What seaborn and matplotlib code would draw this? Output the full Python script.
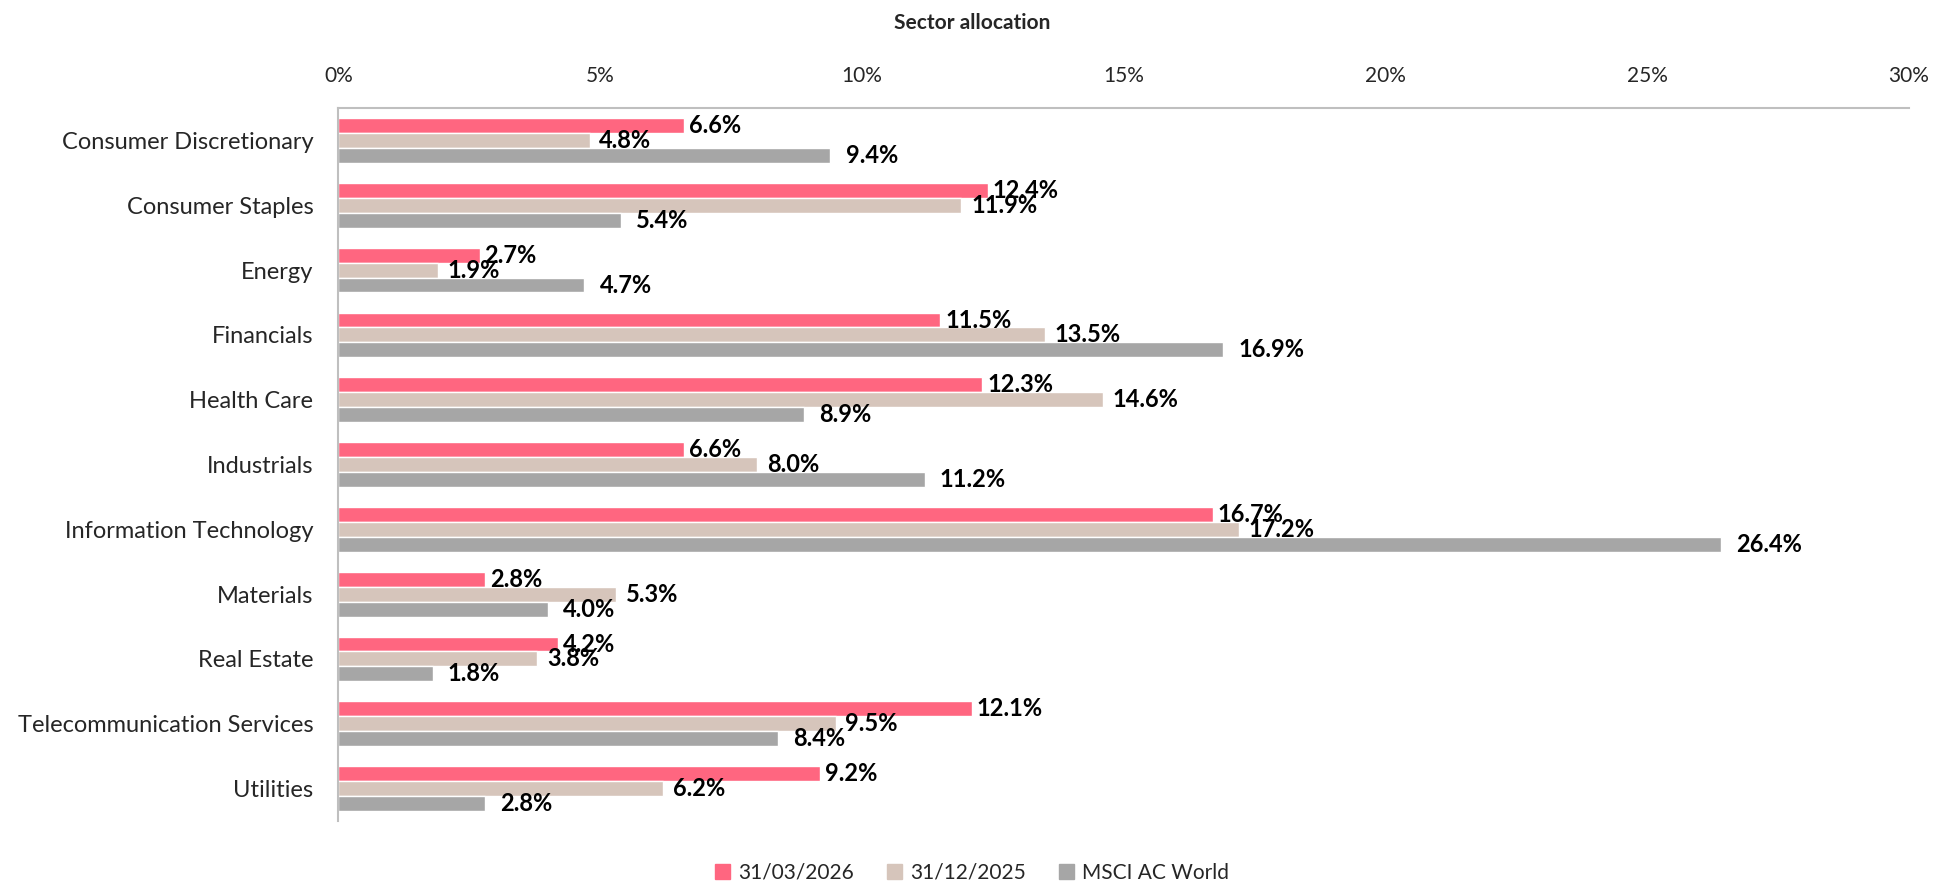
import matplotlib
matplotlib.use("Agg")
import matplotlib.pyplot as plt
import pandas as pd
import seaborn as sns

# Data (percent)
sectors = ["Consumer Discretionary", "Consumer Staples", "Energy", "Financials",
           "Health Care", "Industrials", "Information Technology", "Materials",
           "Real Estate", "Telecommunication Services", "Utilities"]
series_names = ["31/03/2026", "31/12/2025", "MSCI AC World"]
mar_2026 = [6.6, 12.4, 2.7, 11.5, 12.3, 6.6, 16.7, 2.8, 4.2, 12.1, 9.2]
dec_2025 = [4.8, 11.9, 1.9, 13.5, 14.6, 8.0, 17.2, 5.3, 3.8, 9.5, 6.2]
msci_acwi = [9.4, 5.4, 4.7, 16.9, 8.9, 11.2, 26.4, 4.0, 1.8, 8.4, 2.8]
x_ticks = [0, 5, 10, 15, 20, 25, 30]

colors = ["#FF6680", "#D6C5BB", "#A6A6A6"]

df = pd.DataFrame({
    "sector": sectors * 3,
    "series": [s for s in series_names for _ in sectors],
    "value": mar_2026 + dec_2025 + msci_acwi,
})

sns.set_theme(style="white")
plt.rcParams["font.family"] = ["Lato", "DejaVu Sans"]

fig, ax = plt.subplots(figsize=(19.44, 8.86), dpi=100)
fig.subplots_adjust(left=0.174, right=0.982, top=0.878, bottom=0.0734)

sns.barplot(data=df, x="value", y="sector", hue="series", order=sectors,
            hue_order=series_names, palette=colors, orient="h",
            width=0.69, gap=0, saturation=1, ax=ax, legend=False)

# value labels, bold, just past the bar end
for cont, pad in zip(ax.containers, [3.5, 7, 11]):
    ax.bar_label(cont, fmt="%.1f%%", padding=pad, fontsize=17,
                 fontweight="bold", color="black")

ax.set_xlim(0, 30)
ax.set_ylim(len(sectors) - 0.5, -0.5)
ax.set_xticks(x_ticks)
ax.set_xticklabels([f"{t}%" for t in x_ticks])
ax.xaxis.tick_top()
ax.tick_params(axis="x", length=0, pad=16, labelsize=15)
ax.tick_params(axis="y", length=0, pad=18, labelsize=17)
ax.set_xlabel("")
ax.set_ylabel("")

for side in ["right", "bottom"]:
    ax.spines[side].set_visible(False)
for side in ["left", "top"]:
    ax.spines[side].set_color("#BFBFBF")
    ax.spines[side].set_linewidth(1.5)

fig.suptitle("Sector allocation", x=0.5, y=0.985, fontsize=15, fontweight="bold")

handles = [plt.Rectangle((0, 0), 1, 1, color=c) for c in colors]
fig.legend(handles, series_names, loc="center", bbox_to_anchor=(0.5, 0.0147),
           ncol=3, frameon=False, fontsize=15, handlelength=0.7, handleheight=0.7,
           handletextpad=0.4, columnspacing=1.6)

fig.savefig("out.png", dpi=100)
